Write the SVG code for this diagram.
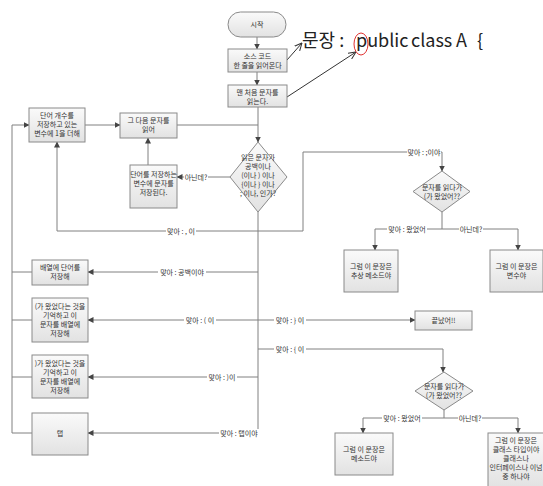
<svg xmlns="http://www.w3.org/2000/svg" width="543" height="486" viewBox="0 0 543 486">
<defs>
<linearGradient id="g" x1="0" y1="0" x2="0" y2="1"><stop offset="0" stop-color="#fafafa"/><stop offset="1" stop-color="#e2e2e2"/></linearGradient>
<marker id="a" markerWidth="6" markerHeight="6" refX="5.5" refY="3" orient="auto" markerUnits="userSpaceOnUse"><path d="M0,0 L6,3 L0,6 z" fill="#444"/></marker>
<marker id="b" markerWidth="8" markerHeight="8" refX="7.5" refY="4" orient="auto" markerUnits="userSpaceOnUse"><path d="M0,0.5 L7.5,4 L0,7.5" fill="none" stroke="#333" stroke-width="1"/></marker>
<style>
.n{fill:url(#g);stroke:#8a8a8a;stroke-width:1}
.t{font-family:"Noto Sans CJK KR","Noto Sans",sans-serif;font-size:7px;fill:#333;text-anchor:middle}
.c{fill:none;stroke:#808080;stroke-width:1}
.l{font-family:"Noto Sans CJK KR","Noto Sans",sans-serif;font-size:7px;fill:#333;text-anchor:middle}
.lb{fill:#fff}
.big{font-family:"Noto Sans CJK KR","Noto Sans",sans-serif;font-size:18px;fill:#222}
</style>
</defs>
<rect width="543" height="486" fill="#fff"/>
<g id="connectors">
<path class="c" d="M257,37 V49" marker-end="url(#a)"/>
<path class="c" d="M257,72 V85" marker-end="url(#a)"/>
<path class="c" d="M258,107 V142" marker-end="url(#a)"/>
<path class="c" d="M177,125 H258"/>
<path class="c" d="M85,125 H120" marker-end="url(#a)"/>
<path class="c" d="M12,433 V125 H29" marker-end="url(#a)"/>
<path class="c" d="M32,272 H12 M32,320 H12 M32,377 H12 M32,433 H12"/>
<path class="c" d="M230,177 H177" marker-end="url(#a)"/>
<path class="c" d="M148,165 V138" marker-end="url(#a)"/>
<path class="c" d="M258,212 V433"/>
<path class="c" d="M303,231 H57 V142" marker-end="url(#a)"/>
<path class="c" d="M303,231 V152 H442 V171" marker-end="url(#a)"/>
<path class="c" d="M442,212 V229"/>
<path class="c" d="M375,229 H518"/>
<path class="c" d="M375,229 V250" marker-end="url(#a)"/>
<path class="c" d="M518,229 V250" marker-end="url(#a)"/>
<path class="c" d="M258,272 H88" marker-end="url(#a)"/>
<path class="c" d="M258,320 H88" marker-end="url(#a)"/>
<path class="c" d="M258,320 H415" marker-end="url(#a)"/>
<path class="c" d="M258,349 H443 V372" marker-end="url(#a)"/>
<path class="c" d="M258,377 H88" marker-end="url(#a)"/>
<path class="c" d="M258,433 H88" marker-end="url(#a)"/>
<path class="c" d="M444,410 V418"/>
<path class="c" d="M363,418 H518"/>
<path class="c" d="M363,418 V433" marker-end="url(#a)"/>
<path class="c" d="M518,418 V433" marker-end="url(#a)"/>
<path d="M287,60 L302,43" fill="none" stroke="#333" stroke-width="1" marker-end="url(#b)"/>
<path d="M287,97 L356,52" fill="none" stroke="#333" stroke-width="1" marker-end="url(#b)"/>
<g>
<rect class="lb" x="184" y="173" width="24" height="8"/><text class="l" x="196" y="180">아닌데?</text>
<rect class="lb" x="166" y="227" width="30" height="8"/><text class="l" x="181" y="234">맞아 : , 이</text>
<rect class="lb" x="407" y="148" width="34" height="8"/><text class="l" x="424" y="155">맞아 : ;이야</text>
<rect class="lb" x="387" y="225" width="40" height="8"/><text class="l" x="407" y="232">맞아 : 왔었어</text>
<rect class="lb" x="459" y="225" width="24" height="8"/><text class="l" x="471" y="232">아닌데?</text>
<rect class="lb" x="158" y="268" width="48" height="8"/><text class="l" x="182" y="275">맞아 : 공백이야</text>
<rect class="lb" x="184" y="316" width="32" height="8"/><text class="l" x="200" y="323">맞아 : ( 이</text>
<rect class="lb" x="274" y="316" width="32" height="8"/><text class="l" x="290" y="323">맞아 : } 이</text>
<rect class="lb" x="274" y="345" width="32" height="8"/><text class="l" x="290" y="352">맞아 : { 이</text>
<rect class="lb" x="207" y="373" width="30" height="8"/><text class="l" x="222" y="380">맞아 : )이</text>
<rect class="lb" x="219" y="429" width="40" height="8"/><text class="l" x="239" y="436">맞아 : 탭이야</text>
<rect class="lb" x="382" y="414" width="40" height="8"/><text class="l" x="402" y="421">맞아 : 왔었어</text>
<rect class="lb" x="458" y="414" width="24" height="8"/><text class="l" x="470" y="421">아닌데?</text>
</g>
</g>
<g id="start"><rect class="n" x="228" y="12" width="58" height="25" rx="12.5"/><text class="t" x="257" y="27">시작</text></g>
<g id="readline"><rect class="n" x="228" y="49" width="59" height="23"/><text class="t" x="257.5" y="59">소스 코드</text><text class="t" x="257.5" y="68">한 줄을 읽어온다</text></g>
<g id="readfirst"><rect class="n" x="228" y="85" width="59" height="22"/><text class="t" x="257.5" y="95">맨 처음 문자를</text><text class="t" x="257.5" y="104">읽는다.</text></g>
<g id="sentence"><text class="big" y="47"><tspan x="302">문장 :</tspan><tspan x="356">public</tspan><tspan x="411">class</tspan><tspan x="456">A</tspan><tspan x="477">{</tspan></text><ellipse cx="361" cy="44" rx="7" ry="11" fill="none" stroke="#e03030" stroke-width="1"/></g>
<g id="count"><rect class="n" x="29" y="108" width="56" height="34"/><text class="t" x="57" y="118">단어 개수를</text><text class="t" x="57" y="127">저장하고 있는</text><text class="t" x="57" y="136">변수에 1을 더해</text></g>
<g id="next"><rect class="n" x="120" y="113" width="57" height="25"/><text class="t" x="148.5" y="123">그 다음 문자를</text><text class="t" x="148.5" y="132">읽어</text></g>
<g id="saveword"><rect class="n" x="130" y="165" width="47" height="43"/><text class="t" x="153.5" y="177">단어를 저장하는</text><text class="t" x="153.5" y="186">변수에 문자를</text><text class="t" x="153.5" y="195">저장된다.</text></g>
<g id="decision1"><polygon class="n" points="258,142 287,177 258,212 230,177"/><text class="t" x="258" y="160">읽은 문자가</text><text class="t" x="258" y="169">공백이나</text><text class="t" x="258" y="178">(이나 ) 이나</text><text class="t" x="258" y="187">{이나 } 이나</text><text class="t" x="258" y="196">; 이나, 인가?</text></g>
<g id="decision2"><polygon class="n" points="442,171 470,191.5 442,212 413,191.5"/><text class="t" x="442" y="190">문자를 읽다가</text><text class="t" x="442" y="199">(가 왔었어??</text></g>
<g id="abstract"><rect class="n" x="344" y="250" width="54" height="42"/><text class="t" x="371" y="269">그럼 이 문장은</text><text class="t" x="371" y="278">추상 메소드야</text></g>
<g id="variable"><rect class="n" x="490" y="250" width="53" height="42"/><text class="t" x="516.5" y="269">그럼 이 문장은</text><text class="t" x="516.5" y="278">변수야</text></g>
<g id="storeword"><rect class="n" x="32" y="260" width="56" height="25"/><text class="t" x="60" y="270">배열에 단어를</text><text class="t" x="60" y="279">저장해</text></g>
<g id="openparen"><rect class="n" x="32" y="298" width="56" height="44"/><text class="t" x="60" y="309">(가 왔었다는 것을</text><text class="t" x="60" y="318">기억하고 이</text><text class="t" x="60" y="327">문자를 배열에</text><text class="t" x="60" y="336">저장해</text></g>
<g id="end"><rect class="n" x="415" y="311" width="57" height="19"/><text class="t" x="443.5" y="323">끝났어!!</text></g>
<g id="closeparen"><rect class="n" x="32" y="355" width="56" height="43"/><text class="t" x="60" y="366">)가 왔었다는 것을</text><text class="t" x="60" y="375">기억하고 이</text><text class="t" x="60" y="384">문자를 배열에</text><text class="t" x="60" y="393">저장해</text></g>
<g id="tab"><rect class="n" x="32" y="413" width="56" height="42"/><text class="t" x="60" y="436">탭</text></g>
<g id="decision3"><polygon class="n" points="444,372 473,391 444,410 415,391"/><text class="t" x="444" y="389">문자를 읽다가</text><text class="t" x="444" y="398">(가 왔었어??</text></g>
<g id="method"><rect class="n" x="335" y="433" width="58" height="42"/><text class="t" x="364" y="452">그럼 이 문장은</text><text class="t" x="364" y="461">메소드야</text></g>
<g id="classtype"><rect class="n" x="488" y="433" width="56" height="55"/><text class="t" x="516" y="443">그럼 이 문장은</text><text class="t" x="516" y="452">클래스 타입이야</text><text class="t" x="516" y="461">클래스나</text><text class="t" x="516" y="470">인터페이스나 이넘</text><text class="t" x="516" y="479">중 하나야</text></g>
</svg>
